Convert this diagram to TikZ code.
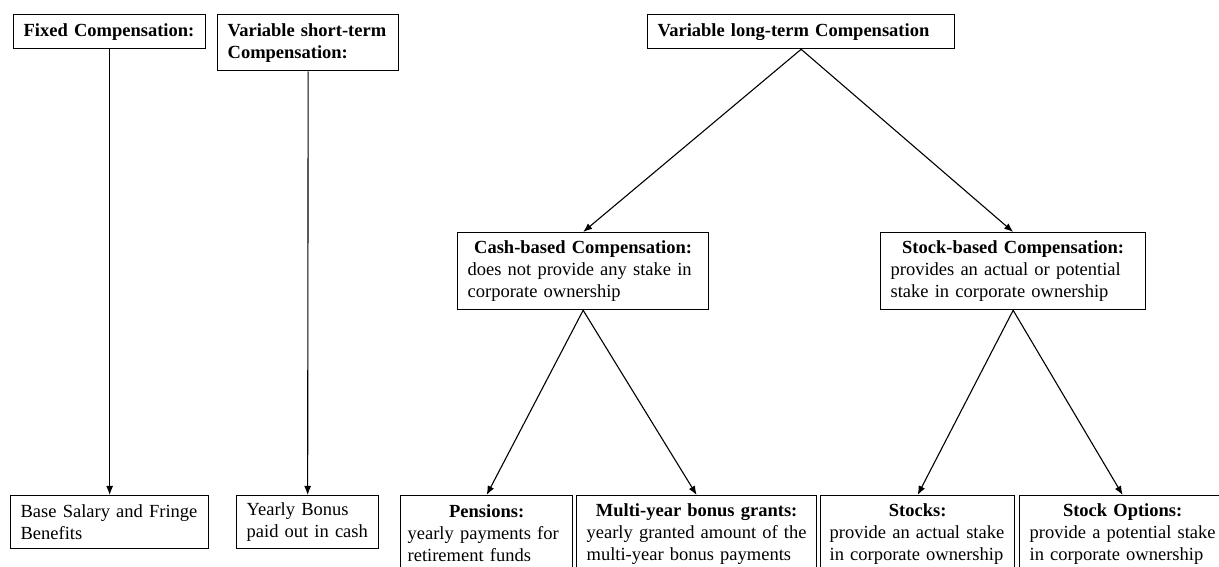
\documentclass[tikz,border=0pt]{standalone}
\usepackage{fontspec}
\setmainfont{Liberation Serif}
\usetikzlibrary{arrows.meta}
\begin{document}
\begin{tikzpicture}[x=1pt,y=1pt,
  box/.style={draw, line width=1.3pt, rectangle, inner xsep=10pt, inner ysep=0pt,
    anchor=north west, font=\fontsize{18.5}{22}\selectfont, align=left},
  arr/.style={-{Latex[length=9pt,width=7pt]}, line width=1.1pt}]
\useasboundingbox (0,0) rectangle (1219,567);
\clip (0,0) rectangle (1219,567);
% top row
\node[box, minimum width=192, minimum height=34, text width=172] (fixed) at (13,553)
  {\textbf{Fixed Compensation:}};
\node[box, minimum width=181, minimum height=56, text width=161] (short) at (217,553)
  {\textbf{Variable short-term}\\\textbf{Compensation:}};
\node[box, minimum width=307, minimum height=34, text width=287] (long) at (647,553)
  {\textbf{Variable long-term Compensation}};
% middle row
\node[box, minimum width=251, minimum height=77, text width=231] (cash) at (457,335)
  {\makebox[\hsize][c]{\textbf{Cash-based Compensation:}}\\does not provide any stake in\\corporate ownership};
\node[box, minimum width=265, minimum height=77, text width=245] (stockb) at (880,335)
  {\makebox[\hsize][c]{\textbf{Stock-based Compensation:}}\\provides an actual or potential\\stake in corporate ownership};
% bottom row
\node[box, minimum width=198, minimum height=53, text width=178] (base) at (10,72)
  {Base Salary and Fringe\\Benefits};
\node[box, minimum width=142, minimum height=53, text width=122] (yearly) at (236,72)
  {Yearly Bonus\\paid out in cash};
\node[box, inner xsep=7pt, minimum width=172, minimum height=76, text width=158] (pens) at (400,72)
  {\makebox[\hsize][c]{\textbf{Pensions:}}\\yearly payments for\\retirement funds};
\node[box, minimum width=240, minimum height=76, text width=220] (multi) at (576,72)
  {\makebox[\hsize][c]{\textbf{Multi-year bonus grants:}}\\yearly granted amount of the\\multi-year bonus payments};
\node[box, inner xsep=9pt, minimum width=194, minimum height=76, text width=176] (stocks) at (820,72)
  {\makebox[\hsize][c]{\textbf{Stocks:}}\\\mbox{provide an actual stake}\\\mbox{in corporate ownership}};
\node[box, minimum width=206, minimum height=76, text width=186] (options) at (1019,72)
  {\makebox[\hsize][c]{\textbf{Stock Options:}}\\\mbox{provide a potential stake}\\\mbox{in corporate ownership}};
% connectors
\draw[arr] (fixed.south) -- (base.north);
\draw[arr] (short.south) -- (yearly.north);
\draw[arr] (long.south) -- (cash.north);
\draw[arr] (long.south) -- (stockb.north);
\draw[arr] (cash.south) -- (pens.north);
\draw[arr] (cash.south) -- (multi.north);
\draw[arr] (stockb.south) -- (stocks.north);
\draw[arr] (stockb.south) -- (options.north);
\end{tikzpicture}
\end{document}
